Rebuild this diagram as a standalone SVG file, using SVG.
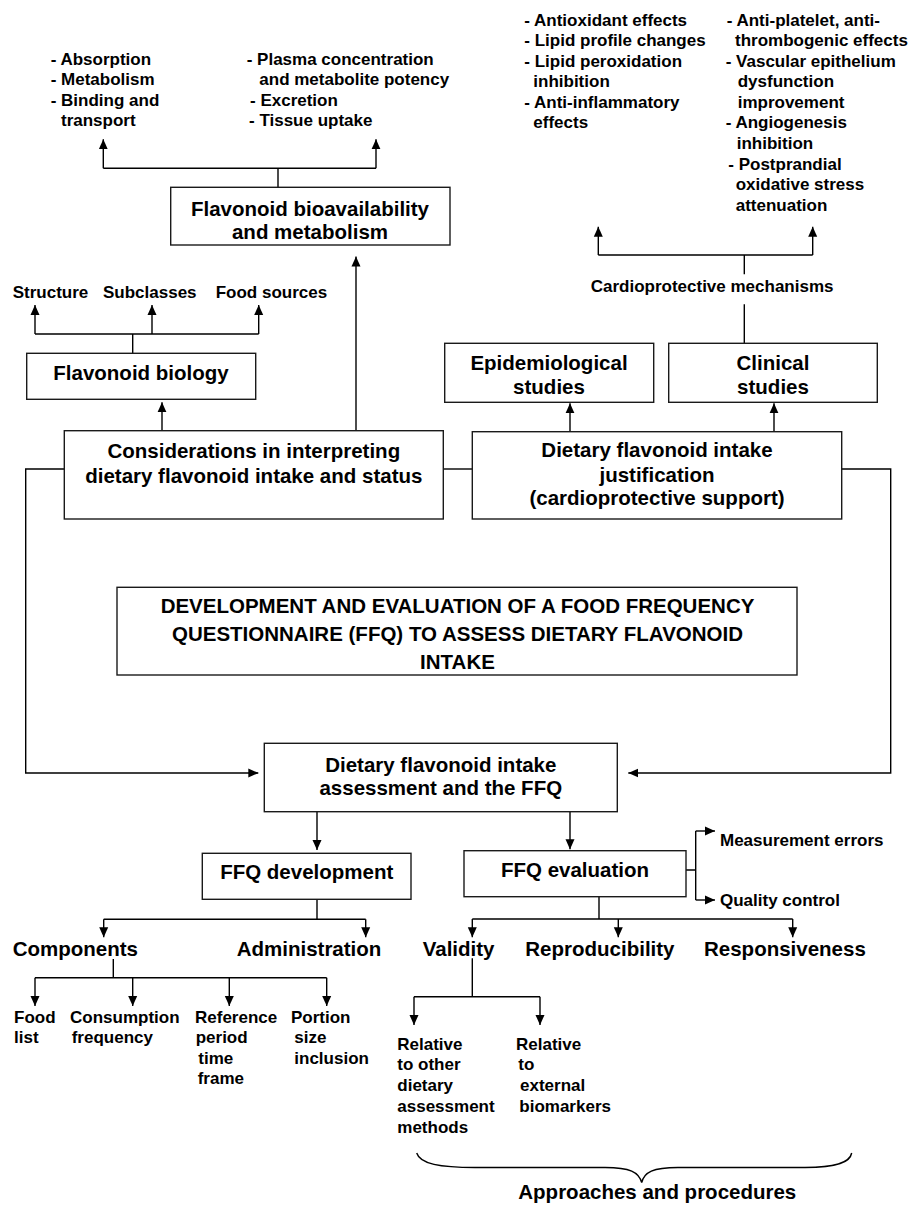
<svg xmlns="http://www.w3.org/2000/svg" width="909" height="1217" viewBox="0 0 909 1217">
<style>
text{font-family:"Liberation Sans",Arial,sans-serif;font-weight:bold;fill:#000}
.s{font-size:17px}
.l{font-size:20.5px}
.m{text-anchor:middle}
rect.n{fill:#fff;stroke:#1a1a1a;stroke-width:1.4}
#connectors path{fill:none;stroke:#000;stroke-width:1.4}
#connectors path.a{marker-end:url(#ah)}
</style>
<defs>
<marker id="ah" markerUnits="userSpaceOnUse" markerWidth="10" markerHeight="10" viewBox="0 0 10 10" refX="10" refY="5" orient="auto">
<path d="M0,0.5 L10,5 L0,9.5 z" fill="#000"/>
</marker>
</defs>
<rect width="909" height="1217" style="fill:#fff;stroke:none"/>

<g id="connectors">
<path d="M278,187.3 V168.3 M103.3,168.3 H376"/>
<path class="a" d="M103.3,168.3 V139.3"/>
<path class="a" d="M376,168.3 V139.3"/>
<path class="a" d="M356,430.7 V256.5"/>
<path d="M132.7,353.3 V334 M35,334 H258.7"/>
<path class="a" d="M35,334 V305"/>
<path class="a" d="M152,334 V305"/>
<path class="a" d="M258.7,334 V305"/>
<path class="a" d="M162,430.7 V402.3"/>
<path d="M598.3,255 H812.7 M744.3,255 V274.3 M744.3,304.3 V343.3"/>
<path class="a" d="M598.3,255 V226.7"/>
<path class="a" d="M812.7,255 V226.7"/>
<path class="a" d="M570,431.7 V403.3"/>
<path class="a" d="M774,431.7 V403.3"/>
<path d="M443.3,469 H472.3"/>
<path class="a" d="M64.3,469 H25.7 V773 H258.3"/>
<path class="a" d="M841.7,469 H890.7 V773 H628.3"/>
<path class="a" d="M317,811.7 V850"/>
<path class="a" d="M570,811.7 V849.3"/>
<path d="M317,899.3 V919.3 M103.7,919.3 H365.7"/>
<path class="a" d="M103.7,919.3 V937.3"/>
<path class="a" d="M365.7,919.3 V937.3"/>
<path d="M113.3,959 V977.7 M35,977.7 H326.7"/>
<path class="a" d="M35,977.7 V1006"/>
<path class="a" d="M132.7,977.7 V1006"/>
<path class="a" d="M229.3,977.7 V1006"/>
<path class="a" d="M326.7,977.7 V1006"/>
<path d="M686,870 H695.7 M695.7,831 V900"/>
<path class="a" d="M695.7,831 H715"/>
<path class="a" d="M695.7,900 H715"/>
<path d="M599,897 V919 M472.3,919 H792.7"/>
<path class="a" d="M472.3,919 V937.3"/>
<path class="a" d="M618.3,919 V937.3"/>
<path class="a" d="M792.7,919 V937.3"/>
<path d="M472.3,958.3 V996.7 M414,996.7 H540"/>
<path class="a" d="M414,996.7 V1025"/>
<path class="a" d="M540,996.7 V1025"/>
<path d="M416.7,1153 C420,1164 440,1167.5 475,1167.5 L605,1167.5 C630,1167.5 639,1172 641.7,1182.7 C644,1172 653,1167.5 678,1167.5 L805,1167.5 C838,1167.5 850,1162 851.7,1153"/>
</g>

<g id="bioavail-list-left">
<text class="s" x="50.7" y="64.5">- Absorption</text>
<text class="s" x="50.7" y="85">- Metabolism</text>
<text class="s" x="50.7" y="105.5">- Binding and</text>
<text class="s" x="61" y="126">transport</text>
</g>
<g id="bioavail-list-right">
<text class="s" x="246.7" y="64.5">- Plasma concentration</text>
<text class="s" x="259.3" y="85">and metabolite potency</text>
<text class="s" x="250" y="105.5">- Excretion</text>
<text class="s" x="249" y="126">- Tissue uptake</text>
</g>
<g id="mech-list-left">
<text class="s" x="524.3" y="25.5">- Antioxidant effects</text>
<text class="s" x="524.3" y="46">- Lipid profile changes</text>
<text class="s" x="524.3" y="66.5">- Lipid peroxidation</text>
<text class="s" x="533.3" y="87">inhibition</text>
<text class="s" x="524.3" y="107.5">- Anti-inflammatory</text>
<text class="s" x="533.3" y="128">effects</text>
</g>
<g id="mech-list-right">
<text class="s" x="726.7" y="25.5">- Anti-platelet, anti-</text>
<text class="s" x="735" y="46">thrombogenic effects</text>
<text class="s" x="725.7" y="66.5">- Vascular epithelium</text>
<text class="s" x="737.7" y="87">dysfunction</text>
<text class="s" x="737.7" y="107.5">improvement</text>
<text class="s" x="725.7" y="128">- Angiogenesis</text>
<text class="s" x="736.7" y="149">inhibition</text>
<text class="s" x="728.3" y="169.5">- Postprandial</text>
<text class="s" x="735.7" y="190">oxidative stress</text>
<text class="s" x="735.7" y="210.5">attenuation</text>
</g>

<g id="bioavail">
<rect class="n" x="170.7" y="187.3" width="279.3" height="57.7"/>
<text class="l m" x="310" y="215.5">Flavonoid bioavailability</text>
<text class="l m" x="310" y="239">and metabolism</text>
</g>
<g id="biology-items">
<text class="s" x="12.7" y="298">Structure</text>
<text class="s" x="103" y="298">Subclasses</text>
<text class="s" x="215.7" y="298">Food sources</text>
</g>
<g id="biology">
<rect class="n" x="26.7" y="353.3" width="229" height="46"/>
<text class="l m" x="141" y="380">Flavonoid biology</text>
</g>
<g id="mechanisms">
<text class="s" x="590.7" y="292">Cardioprotective mechanisms</text>
</g>
<g id="epidemiological">
<rect class="n" x="444.7" y="343.3" width="209" height="59"/>
<text class="l m" x="549" y="370">Epidemiological</text>
<text class="l m" x="549" y="394">studies</text>
</g>
<g id="clinical">
<rect class="n" x="668.7" y="343.3" width="208.6" height="59"/>
<text class="l m" x="773" y="370">Clinical</text>
<text class="l m" x="773" y="394">studies</text>
</g>
<g id="considerations">
<rect class="n" x="64.3" y="430.7" width="379" height="88.3"/>
<text class="l m" x="253.8" y="458">Considerations in interpreting</text>
<text class="l m" x="253.8" y="482.7">dietary flavonoid intake and status</text>
</g>
<g id="justification">
<rect class="n" x="472.3" y="431.7" width="369.4" height="87.3"/>
<text class="l m" x="657" y="457.3">Dietary flavonoid intake</text>
<text class="l m" x="657" y="481.7">justification</text>
<text class="l m" x="657" y="505">(cardioprotective support)</text>
</g>
<g id="title">
<rect class="n" x="117" y="587.3" width="680" height="87.7"/>
<text class="l m" x="457.5" y="612.5">DEVELOPMENT AND EVALUATION OF A FOOD FREQUENCY</text>
<text class="l m" x="457.5" y="640.5">QUESTIONNAIRE (FFQ) TO ASSESS DIETARY FLAVONOID</text>
<text class="l m" x="457.5" y="668.5">INTAKE</text>
</g>
<g id="assessment">
<rect class="n" x="264.3" y="743.3" width="353" height="68.4"/>
<text class="l m" x="440.8" y="771.7">Dietary flavonoid intake</text>
<text class="l m" x="440.8" y="795">assessment and the FFQ</text>
</g>
<g id="ffq-development">
<rect class="n" x="202.3" y="853.3" width="208.7" height="46"/>
<text class="l m" x="306.7" y="879.3">FFQ development</text>
</g>
<g id="ffq-evaluation">
<rect class="n" x="464" y="850.7" width="222" height="46"/>
<text class="l m" x="575" y="877.3">FFQ evaluation</text>
</g>
<g id="eval-side">
<text class="s" x="720" y="845.5">Measurement errors</text>
<text class="s" x="720" y="906">Quality control</text>
</g>
<g id="dev-items">
<text class="l" x="12.7" y="956">Components</text>
<text class="l" x="236.7" y="956">Administration</text>
</g>
<g id="eval-items">
<text class="l" x="422.7" y="956">Validity</text>
<text class="l" x="525.3" y="956">Reproducibility</text>
<text class="l" x="704" y="956">Responsiveness</text>
</g>
<g id="components-items">
<text class="s" x="14" y="1022.7">Food</text>
<text class="s" x="14" y="1043.2">list</text>
<text class="s" x="70" y="1022.7">Consumption</text>
<text class="s" x="71.7" y="1043.2">frequency</text>
<text class="s" x="195" y="1022.7">Reference</text>
<text class="s" x="195.7" y="1043.2">period</text>
<text class="s" x="198.3" y="1063.7">time</text>
<text class="s" x="197.7" y="1084.2">frame</text>
<text class="s" x="291" y="1022.7">Portion</text>
<text class="s" x="294.3" y="1043.2">size</text>
<text class="s" x="294.3" y="1063.7">inclusion</text>
</g>
<g id="validity-items">
<text class="s" x="397.3" y="1049.5">Relative</text>
<text class="s" x="397.3" y="1070">to other</text>
<text class="s" x="397.3" y="1091">dietary</text>
<text class="s" x="397.3" y="1112">assessment</text>
<text class="s" x="397.3" y="1132.5">methods</text>
<text class="s" x="516" y="1049.5">Relative</text>
<text class="s" x="518.3" y="1070">to</text>
<text class="s" x="520" y="1091">external</text>
<text class="s" x="519.3" y="1112">biomarkers</text>
</g>
<g id="approaches">
<text class="l" x="518.3" y="1198.5">Approaches and procedures</text>
</g>
</svg>
